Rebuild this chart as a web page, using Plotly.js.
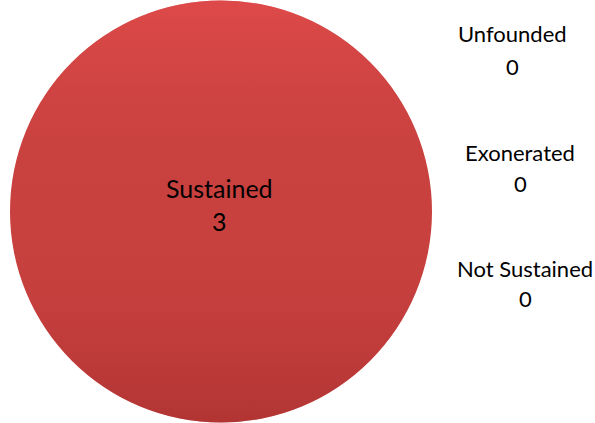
<!DOCTYPE html>
<html>
<head>
<meta charset="utf-8">
<script src="https://cdn.plot.ly/plotly-3.0.1.min.js"></script>
<style>html,body{margin:0;padding:0;background:#fff;}#chart{width:595px;height:423px;}</style>
</head>
<body>
<div id="chart"></div>
<script>
var categories = ["Sustained", "Unfounded", "Exonerated", "Not Sustained"];
var counts = [3, 0, 0, 0];
var sliceColors = ["#c8413f", "#4f81bd", "#9bbb59", "#8064a2"];

var FONT = "Lato, 'Open Sans', sans-serif";

var trace = {
  type: "pie",
  labels: categories,
  values: counts,
  sort: false,
  direction: "clockwise",
  rotation: 0,
  marker: { colors: sliceColors, line: { width: 0 } },
  textinfo: "none",
  hoverinfo: "label+value",
  showlegend: false,
  domain: { x: [10 / 595, 432 / 595], y: [0, 1] }
};

// label positions (pixels): [x center, label line y, value line y, font size]
var labelPos = {
  "Sustained": [219, 188, 221, 25],
  "Unfounded": [512, 33, 66, 22],
  "Exonerated": [520, 152, 183, 22],
  "Not Sustained": [525, 268, 298, 22]
};
var annotations = [];
categories.forEach(function (c, i) {
  var p = labelPos[c];
  if (!p) return;
  annotations.push({ xref: "paper", yref: "paper", x: p[0] / 595, y: 1 - p[1] / 423, text: c, showarrow: false,
    xanchor: "center", yanchor: "middle", font: { family: FONT, size: p[3], color: "#000" } });
  annotations.push({ xref: "paper", yref: "paper", x: p[0] / 595, y: 1 - p[2] / 423, text: String(counts[i]), showarrow: false,
    xanchor: "center", yanchor: "middle", font: { family: FONT, size: p[3], color: "#000" } });
});

// soft vertical shading over the pie (light at top, darker at bottom)
var shadeSvg = '<svg xmlns="http://www.w3.org/2000/svg" width="422" height="422" viewBox="0 0 100 100">' +
  '<defs><linearGradient id="g" x1="0" y1="0" x2="0" y2="1">' +
  '<stop offset="0" stop-color="#f25252" stop-opacity="0.5"/>' +
  '<stop offset="0.5" stop-color="#c8413f" stop-opacity="0"/>' +
  '<stop offset="1" stop-color="#9a2828" stop-opacity="0.5"/>' +
  '</linearGradient></defs><circle cx="50" cy="50" r="49.9" fill="url(#g)"/></svg>';

var layout = {
  width: 595,
  height: 423,
  margin: { l: 0, r: 0, t: 0, b: 0 },
  paper_bgcolor: "#fff",
  showlegend: false,
  annotations: annotations,
  images: [{
    source: "data:image/svg+xml;charset=utf-8," + encodeURIComponent(shadeSvg),
    xref: "paper", yref: "paper",
    x: 10 / 595, y: 1, sizex: 422 / 595, sizey: 1,
    xanchor: "left", yanchor: "top", sizing: "stretch", layer: "above"
  }]
};

Plotly.newPlot("chart", [trace], layout, { displayModeBar: false, staticPlot: true });
</script>
</body>
</html>
